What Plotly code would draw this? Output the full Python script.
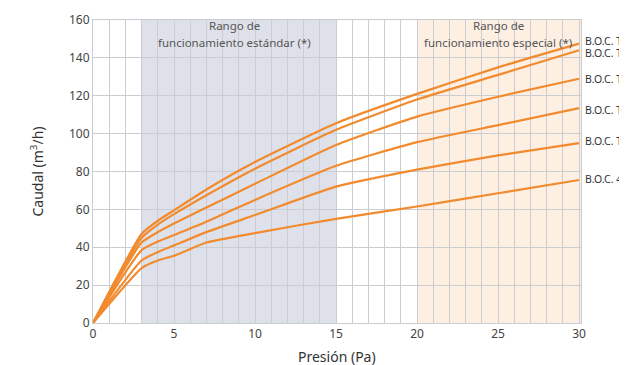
import plotly.graph_objects as go

# Pressure (Pa)
presion = [0, 3, 4, 5, 7, 10, 15, 20, 25, 30]

# Flow (m3/h) per curve (top to bottom)
boc_1 = [0, 47.0, 54.0, 59.5, 70.5, 85.0, 105.5, 121.0, 135.0, 147.5]
boc_2 = [0, 45.0, 52.0, 57.5, 67.5, 81.5, 102.0, 118.0, 131.0, 144.0]
boc_3 = [0, 42.5, 48.0, 52.5, 61.0, 73.5, 94.0, 109.0, 119.5, 129.0]
boc_4 = [0, 38.5, 43.0, 46.5, 53.5, 65.0, 83.0, 95.5, 104.5, 113.5]
boc_5 = [0, 33.0, 37.5, 41.0, 48.0, 57.0, 72.0, 81.0, 88.5, 95.0]
boc_6 = [0, 29.0, 33.0, 35.5, 42.5, 47.5, 55.0, 61.5, 68.5, 75.5]

series = [boc_1, boc_2, boc_3, boc_4, boc_5, boc_6]
labels = ["B.O.C. T", "B.O.C. T", "B.O.C. T", "B.O.C. T", "B.O.C. T", "B.O.C. 4"]
label_y = [148.8, 142.7, 128.6, 112.7, 95.9, 76.2]

x_ticks = [0, 5, 10, 15, 20, 25, 30]
y_ticks = [0, 20, 40, 60, 80, 100, 120, 140, 160]

rango_estandar = [3, 15]
rango_especial = [20, 30.12]

ORANGE = "#f28a2e"
GRID = "#cbcdd2"
FONT = "Noto Sans"

fig = go.Figure()
for s in series:
    fig.add_trace(go.Scatter(x=presion, y=s, mode="lines",
                             line=dict(color=ORANGE, width=2.2, shape="spline", smoothing=0.5),
                             showlegend=False, hoverinfo="skip"))

fig.add_shape(type="rect", xref="x", yref="y", x0=rango_estandar[0], x1=rango_estandar[1],
              y0=0, y1=160, fillcolor="#dfe1ea", line_width=0, layer="below")
fig.add_shape(type="rect", xref="x", yref="y", x0=rango_especial[0], x1=rango_especial[1],
              y0=0, y1=160, fillcolor="#fdefe2", line_width=0, layer="below")

# Region titles
fig.add_annotation(x=8.75, y=160, xref="x", yref="y", text="Rango de", showarrow=False,
                   yanchor="middle", yshift=-5, font=dict(family=FONT, size=11.5, color="#555"))
fig.add_annotation(x=8.75, y=160, xref="x", yref="y", text="funcionamiento estándar (*)",
                   showarrow=False, yanchor="middle", yshift=-22,
                   font=dict(family=FONT, size=11.5, color="#555"))
fig.add_annotation(x=25.0, y=160, xref="x", yref="y", text="Rango de", showarrow=False,
                   yanchor="middle", yshift=-5, font=dict(family=FONT, size=11.5, color="#555"))
fig.add_annotation(x=25.0, y=160, xref="x", yref="y", text="funcionamiento especial (*)",
                   showarrow=False, yanchor="middle", yshift=-22,
                   font=dict(family=FONT, size=11.5, color="#555"))

for lab, ly in zip(labels, label_y):
    fig.add_annotation(x=1.0, y=ly, xref="paper", yref="y", text=lab, showarrow=False,
                       xanchor="left", yanchor="middle", xshift=2,
                       font=dict(family=FONT, size=10.5, color="#333"))

# Axis titles as annotations (fixed position)
fig.add_annotation(x=0, y=0.5, xref="paper", yref="paper", text="Caudal (m<sup>3</sup>/h)",
                   showarrow=False, textangle=-90, xanchor="center", yanchor="middle",
                   xshift=-56, font=dict(family=FONT, size=14, color="#333"))
fig.add_annotation(x=0.5, y=0, xref="paper", yref="paper", text="Presión (Pa)",
                   showarrow=False, xanchor="center", yanchor="middle", yshift=-33,
                   font=dict(family=FONT, size=14, color="#333"))

fig.update_xaxes(range=[0, 30.12], tickvals=x_ticks, showgrid=True, gridcolor=GRID, gridwidth=1,
                 minor=dict(dtick=1, showgrid=True, gridcolor=GRID, gridwidth=1),
                 zeroline=False, showline=True, linecolor=GRID, mirror=True, automargin=False,
                 ticks="", tickfont=dict(family=FONT, size=12, color="#444"))
fig.update_yaxes(range=[0, 160], tickvals=y_ticks, showgrid=True, gridcolor=GRID, gridwidth=1,
                 zeroline=False, showline=True, linecolor=GRID, mirror=True, automargin=False,
                 ticks="", tickfont=dict(family=FONT, size=12, color="#444"))

# The page body adds an 8px offset, so the figure is sized to fill the rest of the window
fig.update_layout(width=619, height=357, margin=dict(l=85, r=46, t=12, b=42, autoexpand=False),
                  plot_bgcolor="white", paper_bgcolor="white")

fig.write_html("out.html")
